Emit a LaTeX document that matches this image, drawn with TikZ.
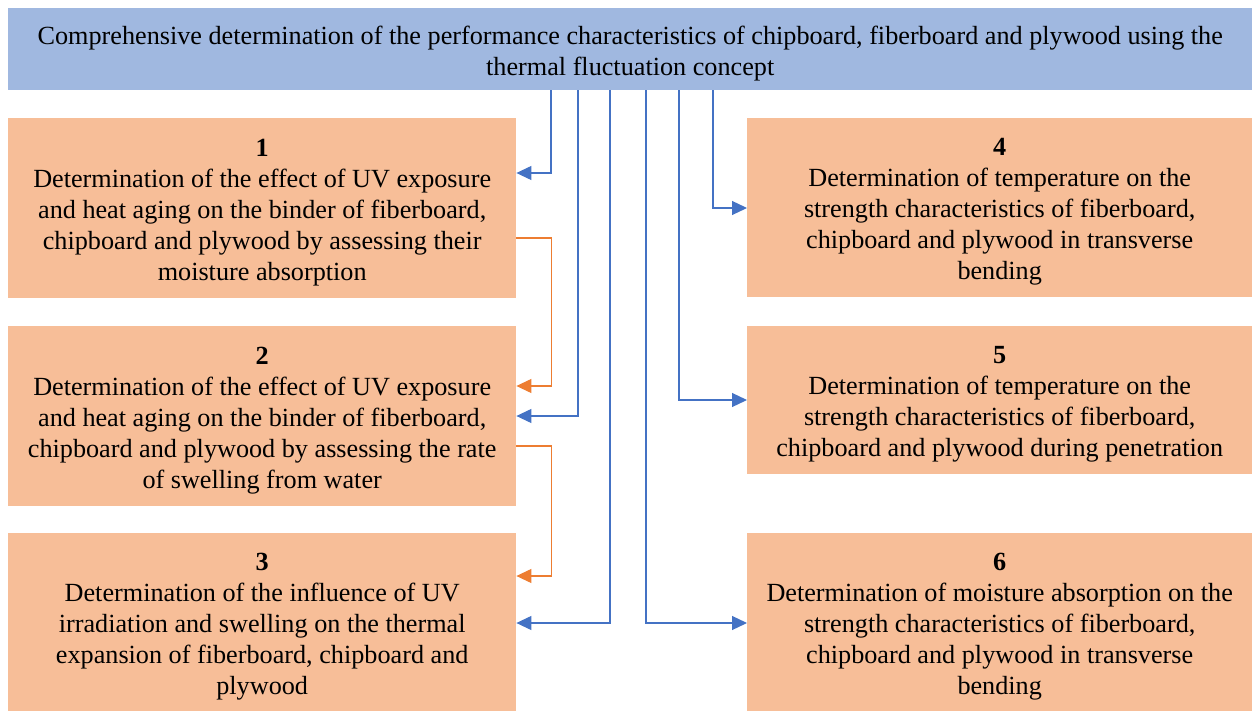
\documentclass[tikz,border=0pt]{standalone}
\usepackage{fontspec}
\setmainfont{Liberation Serif}
\usetikzlibrary{arrows.meta}
\definecolor{topfill}{HTML}{A0B8E0}
\definecolor{boxfill}{HTML}{F7BE98}
\definecolor{lineblue}{HTML}{4472C4}
\definecolor{lineorange}{HTML}{ED7D31}
\tikzset{
  base/.style={anchor=north west, inner sep=0pt},
  lbl/.style={inner sep=0pt, align=center, yshift=-4pt,
    font=\fontsize{26.2}{31}\selectfont, text=black},
  topbox/.style={base, fill=topfill, minimum width=1244pt, minimum height=82pt},
  itembox/.style={base, fill=boxfill, minimum width=#1, minimum height=180pt},
  conn/.style={draw=lineblue, line width=1.2pt, -{Triangle[length=15pt,width=14pt]}},
  oconn/.style={draw=lineorange, line width=1.2pt, -{Triangle[length=15pt,width=14pt]}}
}
\begin{document}
\begin{tikzpicture}[x=1pt,y=-1pt]
\useasboundingbox (0,0) rectangle (1252,711);
\node[topbox, label={[lbl]center:{Comprehensive determination of the performance characteristics of chipboard, fiberboard and plywood using the\\thermal fluctuation concept}}] (top) at (8,8) {};
\node[itembox=508pt, label={[lbl]center:{\textbf{1}\\Determination of the effect of UV exposure\\and heat aging on the binder of fiberboard,\\chipboard and plywood by assessing their\\moisture absorption}}] (b1) at (8,118) {};
\node[itembox=508pt, label={[lbl]center:{\textbf{2}\\Determination of the effect of UV exposure\\and heat aging on the binder of fiberboard,\\chipboard and plywood by assessing the rate\\of swelling from water}}] (b2) at (8,326) {};
\node[itembox=508pt, minimum height=178pt, label={[lbl]center:{\textbf{3}\\Determination of the influence of UV\\irradiation and swelling on the thermal\\expansion of fiberboard, chipboard and\\plywood}}] (b3) at (8,533) {};
\node[itembox=505pt, minimum height=179pt, label={[lbl]center:{\textbf{4}\\Determination of temperature on the\\strength characteristics of fiberboard,\\chipboard and plywood in transverse\\bending}}] (b4) at (747,118) {};
\node[itembox=505pt, minimum height=148pt, label={[lbl]center:{\textbf{5}\\Determination of temperature on the\\strength characteristics of fiberboard,\\chipboard and plywood during penetration}}] (b5) at (747,326) {};
\node[itembox=505pt, minimum height=178pt, label={[lbl]center:{\textbf{6}\\Determination of moisture absorption on the\\strength characteristics of fiberboard,\\chipboard and plywood in transverse\\bending}}] (b6) at (747,533) {};
% blue connectors
\draw[conn] ([xshift=543pt]top.south west) |- ([yshift=-55pt]b1.north east);
\draw[conn] ([xshift=570pt]top.south west) |- ([yshift=-90pt]b2.north east);
\draw[conn] ([xshift=602pt]top.south west) |- ([yshift=-90pt]b3.north east);
\draw[conn] ([xshift=638pt]top.south west) |- ([yshift=-90pt]b6.north west);
\draw[conn] ([xshift=671pt]top.south west) |- ([yshift=-74pt]b5.north west);
\draw[conn] ([xshift=705pt]top.south west) |- ([yshift=-90pt]b4.north west);
% orange connectors
\draw[oconn] ([yshift=-120pt]b1.north east) -- ++(35,0) |- ([yshift=-60pt]b2.north east);
\draw[oconn] ([yshift=-120pt]b2.north east) -- ++(35,0) |- ([yshift=-43pt]b3.north east);
\end{tikzpicture}
\end{document}
